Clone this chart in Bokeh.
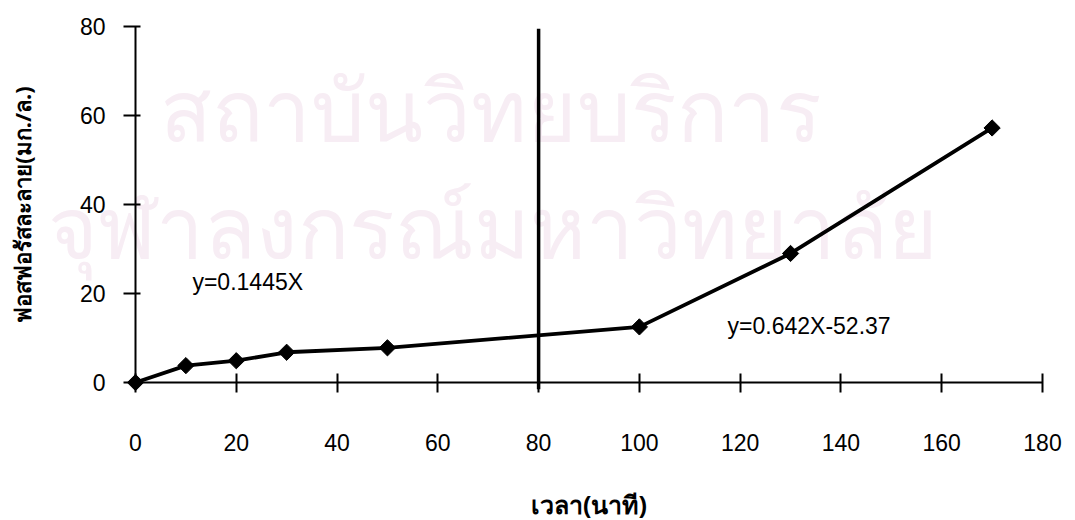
import numpy as np
from bokeh.plotting import figure
from bokeh.models import Range1d, FixedTicker
from bokeh.embed import file_html
from bokeh.resources import INLINE
from bokeh.core.properties import value

# ---- data ----
time_min = [0, 10, 20, 30, 50, 100, 130, 170]
phosphorus = [0, 3.8, 4.9, 6.8, 7.8, 12.5, 29.0, 57.2]
x_ticks = [0, 20, 40, 60, 80, 100, 120, 140, 160, 180]
y_ticks = [0, 20, 40, 60, 80]
split_time = 80
eq_texts = ["y=0.1445X", "y=0.642X-52.37"]
eq_x = [11.3, 117.5]
eq_y = [22.5, 12.8]
x_title = "เวลา(นาที)"
y_title = "ฟอสฟอรัสละลาย(มก./ล.)"
watermark_lines = ["สถาบันวิทยบริการ", "จุฬาลงกรณ์มหาวิทยาลัย"]
watermark_x = [70.5, 71.0]
watermark_y = [61.6, 35.5]

FONT = "Liberation Sans"

# the plotting frame fills the whole canvas; axes sit at the origin
p = figure(width=1075, height=520, output_backend="svg", toolbar_location=None,
           x_range=Range1d(-26.79, 186.55), y_range=Range1d(-31.0, 85.84),
           min_border=0, outline_line_color=None,
           background_fill_color="white", border_fill_color="white")
p.grid.visible = False

# watermark
p.text(x=watermark_x, y=watermark_y, text=watermark_lines,
       text_font=value("Noto Sans"), text_font_size="85px",
       text_color="#f7edf4", text_align="center", text_baseline="alphabetic",
       level="underlay")

for ax in (p.xaxis[0], p.yaxis[0]):
    ax.fixed_location = 0
    ax.axis_line_color = "black"
    ax.axis_line_width = 2
    ax.major_tick_line_color = "black"
    ax.major_tick_line_width = 2
    ax.minor_tick_line_color = None
    ax.major_label_text_font = FONT
    ax.major_label_text_font_size = "23px"
    ax.major_label_text_color = "black"
    ax.axis_label_text_font = "Noto Sans"
    ax.axis_label_text_font_style = "bold"
    ax.axis_label_text_color = "black"

xa = p.xaxis[0]
xa.ticker = FixedTicker(ticks=x_ticks)
xa.bounds = (x_ticks[0], x_ticks[-1])
xa.major_tick_in = 9
xa.major_tick_out = 10
xa.major_label_standoff = 41
xa.axis_label = x_title
xa.axis_label_text_font_size = "25px"
xa.axis_label_standoff = 33

ya = p.yaxis[0]
ya.ticker = FixedTicker(ticks=y_ticks)
ya.bounds = (y_ticks[0], y_ticks[-1])
ya.major_tick_in = 5
ya.major_tick_out = 12
ya.major_label_standoff = 18
ya.axis_label = y_title
ya.axis_label_text_font_size = "22px"
ya.axis_label_standoff = 40

# vertical split line
p.segment(x0=[split_time], y0=[-1.5], x1=[split_time], y1=[79.5],
          line_color="black", line_width=3.5)

# data
p.line(time_min, phosphorus, line_color="black", line_width=3.8)
p.scatter(time_min, phosphorus, marker="square", angle=np.pi / 4, size=11.5,
          fill_color="black", line_color="black")

# equations
p.text(x=eq_x, y=eq_y, text=eq_texts, text_font=value(FONT),
       text_font_size="23px", text_color="black", text_align="left",
       text_baseline="middle")

open("out.html", "w").write(file_html(p, INLINE))
